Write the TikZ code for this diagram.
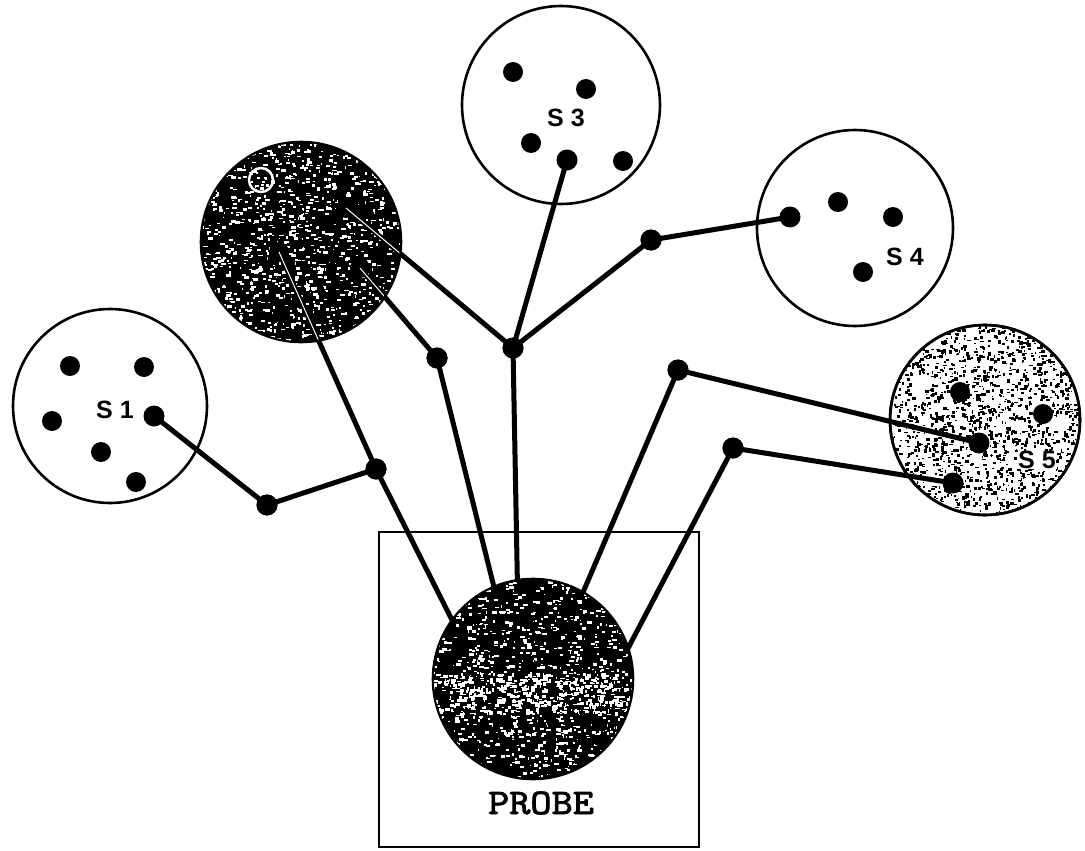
\documentclass[tikz,border=0pt]{standalone}
\usepackage{fontspec}
\newfontfamily\lblfont{Liberation Sans}
\newfontfamily\probefont{lmmono10-regular.otf}[FakeBold=2.2]
\begin{document}
\begin{tikzpicture}[x=1pt,y=-1pt,
  ring/.style={circle,draw=black,line width=2.6pt,minimum size=#1,inner sep=0pt,outer sep=0pt},
  dot/.style={circle,fill=black,minimum size=20pt,inner sep=0pt,outer sep=0pt},
  jdot/.style={dot,minimum size=21pt},
  conn/.style={line width=5pt,line cap=round,line join=round},
  lbl/.style={font=\lblfont\bfseries\fontsize{25}{25}\selectfont,inner sep=0pt},
  plbl/.style={font=\probefont\fontsize{36}{36}\selectfont,inner sep=0pt},
  frame/.style={draw=black,line width=1.8pt}
]
\useasboundingbox (0,0) rectangle (1085,851);
\pgfmathsetseed{7}

% ---------- circles ----------
\node[ring=194pt,fill=white] (S1) at (110,406) {};
\node[ring=198pt,fill=white] (S3) at (561,105) {};
\node[ring=196pt,fill=white] (S4) at (855,228) {};
\node[ring=200pt,fill=black] (S2) at (301,242) {};
\node[ring=190pt,fill=white] (S5) at (985,420) {};

% S2 texture
\begin{scope}
  \clip (S2.center) circle (99pt);
  \foreach \i in {1,...,1100}{
    \pgfmathsetmacro\px{301+200*(rnd-0.5)}
    \pgfmathsetmacro\py{242+200*(rnd-0.5)}
    \pgfmathsetmacro\w{1+4*rnd}
    \pgfmathsetmacro\h{1+2*rnd}
    \fill[white] (\px,\py) rectangle ++(\w,\h);
  }
\end{scope}

% S5 texture
\begin{scope}
  \clip (S5.center) circle (94pt);
  \foreach \i in {1,...,1700}{
    \pgfmathsetmacro\px{985+190*(rnd-0.5)}
    \pgfmathsetmacro\py{420+190*(rnd-0.5)}
    \pgfmathsetmacro\w{1+3*rnd}
    \pgfmathsetmacro\h{1+2.5*rnd}
    \fill[black] (\px,\py) rectangle ++(\w,\h);
  }
\end{scope}
\draw[line width=2.6pt] (S5.center) circle (95pt);

% ---------- probe ----------
\node[frame,minimum width=320pt,minimum height=315pt,inner sep=0pt] (box) at (539,689.5) {};
\node[ring=200pt,fill=black] (probe) at (533,679) {};
\begin{scope}
  \clip (probe.center) circle (99pt);
  \foreach \i in {1,...,950}{
    \pgfmathsetmacro\px{533+200*(rnd-0.5)}
    \pgfmathsetmacro\py{679+200*(rnd-0.5)}
    \pgfmathsetmacro\w{1+4*rnd}
    \pgfmathsetmacro\h{1+2*rnd}
    \fill[white] (\px,\py) rectangle ++(\w,\h);
  }
  \foreach \i in {1,...,400}{
    \pgfmathsetmacro\px{533+200*(rnd-0.5)}
    \pgfmathsetmacro\py{693+40*(rnd-0.5)}
    \pgfmathsetmacro\w{1+4*rnd}
    \pgfmathsetmacro\h{1+3*rnd}
    \fill[white] (\px,\py) rectangle ++(\w,\h);
  }
\end{scope}
\node[plbl] (plabel) at (541,803) {\scalebox{1.12}[1]{PROBE}};

% ---------- dots and junctions ----------
% S1
\node[dot] (s1a) at (70,366) {};
\node[dot] (s1b) at (144,367) {};
\node[dot] (s1c) at (52,421) {};
\node[dot] (s1d) at (101,452) {};
\node[dot] (s1e) at (136,482) {};
\node[dot] (s1f) at (154,416) {};
% S2 (hidden in texture)
\node[dot] (s2a) at (346,208) {};
\node[dot] (s2b) at (360,268) {};
\node[dot] (s2c) at (279,252) {};
\node[dot,fill=none,draw=white,line width=2.5pt,minimum size=24pt] (s2d) at (261,180) {};
% S3
\node[dot] (s3a) at (513,72) {};
\node[dot] (s3b) at (586,89) {};
\node[dot] (s3c) at (531,143) {};
\node[dot] (s3d) at (567,160) {};
\node[dot] (s3e) at (623,161) {};
% S4
\node[dot] (s4a) at (790,217) {};
\node[dot] (s4b) at (838,202) {};
\node[dot] (s4c) at (893,217) {};
\node[dot] (s4d) at (863,272) {};
% S5
\node[dot] (s5a) at (960,392) {};
\node[dot] (s5b) at (1043,414) {};
\node[dot] (s5c) at (979,443) {};
\node[dot] (s5d) at (953,483) {};
% junctions
\node[jdot] (j1) at (267,505) {};
\node[jdot] (j2) at (376,469) {};
\node[jdot] (j3) at (437,358) {};
\node[jdot] (j4) at (513,348) {};
\node[jdot] (j5) at (651,240) {};
\node[jdot] (j6) at (678,370) {};
\node[jdot] (j7) at (733,448) {};

% ---------- connectors ----------
\draw[conn] (s1f.center) -- (j1.center) -- (j2.center);
\draw[conn] (s2c.center) -- (j2.center) -- (probe.144);
\draw[conn] (s2b.center) -- (j3.center) -- (probe.113);
\draw[conn] (s2a.center) -- (j4.center) -- (probe.99);
\draw[conn] (s3d.center) -- (j4.center);
\draw[conn] (s4a.center) -- (j5.center) -- (j4.center);
\draw[conn] (s5c.center) -- (j6.center) -- (probe.60);
\draw[conn] (s5d.center) -- (j7.center) -- (probe.18);

% faint streaks along connectors inside S2
\begin{scope}
  \clip (S2.center) circle (99pt);
  \draw[white,line width=1pt,shift={(2.5pt,-2.5pt)}] (s2a.center) -- (j4.center);
  \draw[white,line width=1pt,shift={(2.5pt,-2.5pt)}] (s2b.center) -- (j3.center);
  \draw[white,line width=1pt,shift={(3pt,0pt)}] (s2c.center) -- (j2.center);
\end{scope}

% redraw dots on top of lines
\foreach \n in {s1f,s3d,s4a,s5c,s5d,j1,j2,j3,j4,j5,j6,j7}{
  \fill (\n.center) circle (10.5pt);
}

% ---------- labels ----------
\node[lbl] (l1) at (115,410) {S 1};
\node[lbl] (l3) at (566,118) {S 3};
\node[lbl] (l4) at (905,257) {S 4};
\node[lbl,fill=white,inner sep=0.5pt] (l5) at (1037,460) {S 5};
\end{tikzpicture}
\end{document}
